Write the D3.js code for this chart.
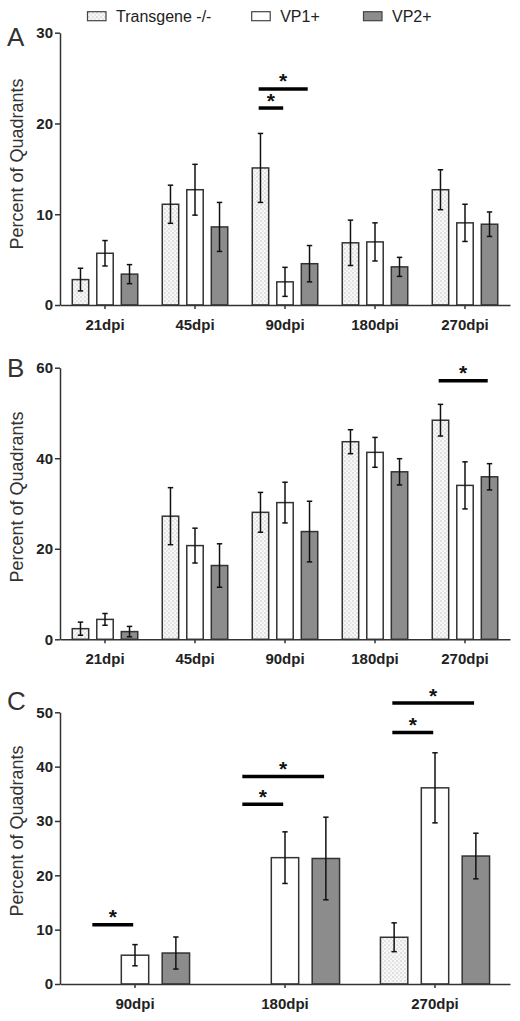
<!DOCTYPE html>
<html>
<head>
<meta charset="utf-8">
<script src="https://cdn.jsdelivr.net/npm/d3@7/dist/d3.min.js"></script>
<style>
  html, body { margin: 0; padding: 0; background: #fff; }
  svg { display: block; font-family: "Liberation Sans", Arial, sans-serif; }
</style>
</head>
<body>
<svg id="chart" width="520" height="1021"></svg>
<script>
// ---------------- DATA ----------------
const seriesNames = ["Transgene -/-", "VP1+", "VP2+"];

// Panel A
const catsA = ["21dpi", "45dpi", "90dpi", "180dpi", "270dpi"];
const tgA   = [2.8, 11.1, 15.1, 6.85, 12.7];
const tgAErr  = [1.25, 2.1, 3.8, 2.5, 2.2];
const vp1A  = [5.7, 12.7, 2.55, 6.95, 9.05];
const vp1AErr = [1.4, 2.8, 1.6, 2.1, 2.05];
const vp2A  = [3.4, 8.6, 4.55, 4.2, 8.9];
const vp2AErr = [1.05, 2.7, 2.0, 1.05, 1.35];
const ticksA = [0, 10, 20, 30];
const sigA = [
  { cat: "90dpi", from: "Transgene -/-", to: "VP2+", y: 23.8 },
  { cat: "90dpi", from: "Transgene -/-", to: "VP1+", y: 21.7 }
];

// Panel B
const catsB = ["21dpi", "45dpi", "90dpi", "180dpi", "270dpi"];
const tgB   = [2.35, 27.2, 28.05, 43.65, 48.4];
const tgBErr  = [1.45, 6.3, 4.4, 2.65, 3.5];
const vp1B  = [4.4, 20.7, 30.2, 41.3, 34.0];
const vp1BErr = [1.3, 3.85, 4.5, 3.3, 5.2];
const vp2B  = [1.7, 16.3, 23.8, 37.0, 35.9];
const vp2BErr = [1.15, 4.8, 6.7, 2.9, 2.9];
const ticksB = [0, 20, 40, 60];
const sigB = [
  { cat: "270dpi", from: "Transgene -/-", to: "VP2+", y: 57.1 }
];

// Panel C
const catsC = ["90dpi", "180dpi", "270dpi"];
const tgC   = [null, null, 8.6];
const tgCErr  = [null, null, 2.65];
const vp1C  = [5.3, 23.25, 36.1];
const vp1CErr = [1.95, 4.75, 6.45];
const vp2C  = [5.7, 23.1, 23.55];
const vp2CErr = [2.95, 7.6, 4.2];
const ticksC = [0, 10, 20, 30, 40, 50];
const sigC = [
  { cat: "90dpi",  from: "Transgene -/-", to: "VP1+", y: 10.9 },
  { cat: "180dpi", from: "Transgene -/-", to: "VP2+", y: 38.2 },
  { cat: "180dpi", from: "Transgene -/-", to: "VP1+", y: 33.1 },
  { cat: "270dpi", from: "Transgene -/-", to: "VP2+", y: 51.7 },
  { cat: "270dpi", from: "Transgene -/-", to: "VP1+", y: 46.3 }
];

// ---------------- LAYOUT ----------------
const panels = [
  { letter: "A", cats: catsA, vals: [tgA, vp1A, vp2A], errs: [tgAErr, vp1AErr, vp2AErr], ticks: ticksA, sig: sigA,
    top: 32.7, base: 305, letterY: 46, titleY: 164 },
  { letter: "B", cats: catsB, vals: [tgB, vp1B, vp2B], errs: [tgBErr, vp1BErr, vp2BErr], ticks: ticksB, sig: sigB,
    top: 367.7, base: 639.3, letterY: 377, titleY: 497 },
  { letter: "C", cats: catsC, vals: [tgC, vp1C, vp2C], errs: [tgCErr, vp1CErr, vp2CErr], ticks: ticksC, sig: sigC,
    top: 712.3, base: 984, letterY: 710, titleY: 831 }
];
const xLeft = 60, xRight = 510;
const fills = { "Transgene -/-": "url(#dots)", "VP1+": "#ffffff", "VP2+": "#8c8c8c" };
const axisColor = "#333";

const svg = d3.select("#chart");
svg.append("rect").attr("width", 520).attr("height", 1021).attr("fill", "#fff");

// dotted pattern
const defs = svg.append("defs");
const pat = defs.append("pattern").attr("id", "dots").attr("patternUnits", "userSpaceOnUse")
  .attr("width", 4).attr("height", 4);
pat.append("rect").attr("width", 4).attr("height", 4).attr("fill", "#f8f8f8");
pat.append("rect").attr("x", 0.5).attr("y", 0.5).attr("width", 1).attr("height", 1).attr("fill", "#9a9a9a");
pat.append("rect").attr("x", 2.5).attr("y", 2.5).attr("width", 1).attr("height", 1).attr("fill", "#b5b5b5");

// ---------------- LEGEND ----------------
const legendX = [87.5, 251.7, 363.5];
const leg = svg.append("g");
seriesNames.forEach((s, i) => {
  leg.append("rect").attr("x", legendX[i]).attr("y", 11.7).attr("width", 18.5).attr("height", 9)
    .attr("fill", fills[s]).attr("stroke", "#444").attr("stroke-width", 1.2);
  leg.append("text").attr("x", legendX[i] + 28.5).attr("y", 21.5).attr("font-size", 16)
    .attr("fill", "#222").text(s);
});

// ---------------- PANELS ----------------
panels.forEach(p => {
  const g = svg.append("g");
  const ymax = p.ticks[p.ticks.length - 1];
  const y = d3.scaleLinear().domain([0, ymax]).range([p.base, p.top]);
  const x0 = d3.scaleBand().domain(p.cats).range([xLeft, xRight]).padding(0);
  const x1 = d3.scaleBand().domain(seriesNames).range([0, x0.bandwidth()])
    .paddingInner(0.33).paddingOuter(0.5);

  const rows = [];
  p.cats.forEach((c, ci) => {
    seriesNames.forEach((s, si) => {
      const v = p.vals[si][ci];
      if (v !== null && v !== undefined) rows.push({ c, s, v, e: p.errs[si][ci] });
    });
  });

  // bars
  g.selectAll("rect.bar").data(rows).join("rect").attr("class", "bar")
    .attr("x", d => x0(d.c) + x1(d.s))
    .attr("y", d => y(d.v))
    .attr("width", x1.bandwidth())
    .attr("height", d => y(0) - y(d.v))
    .attr("fill", d => fills[d.s])
    .attr("stroke", "#333").attr("stroke-width", 1.5);

  // error bars
  const cap = 2.7;
  const eb = g.selectAll("g.err").data(rows).join("g").attr("class", "err")
    .attr("stroke", "#111").attr("stroke-width", 1.5);
  eb.append("line")
    .attr("x1", d => x0(d.c) + x1(d.s) + x1.bandwidth() / 2)
    .attr("x2", d => x0(d.c) + x1(d.s) + x1.bandwidth() / 2)
    .attr("y1", d => y(d.v + d.e)).attr("y2", d => y(d.v - d.e));
  eb.append("line")
    .attr("x1", d => x0(d.c) + x1(d.s) + x1.bandwidth() / 2 - cap)
    .attr("x2", d => x0(d.c) + x1(d.s) + x1.bandwidth() / 2 + cap)
    .attr("y1", d => y(d.v + d.e)).attr("y2", d => y(d.v + d.e));
  eb.append("line")
    .attr("x1", d => x0(d.c) + x1(d.s) + x1.bandwidth() / 2 - cap)
    .attr("x2", d => x0(d.c) + x1(d.s) + x1.bandwidth() / 2 + cap)
    .attr("y1", d => y(d.v - d.e)).attr("y2", d => y(d.v - d.e));

  // axes
  const yAxis = g.append("g").attr("transform", `translate(${xLeft},0)`)
    .call(d3.axisLeft(y).tickValues(p.ticks).tickSize(5).tickSizeOuter(0).tickPadding(2).tickFormat(d3.format("d")));
  const xAxis = g.append("g").attr("transform", `translate(0,${p.base})`)
    .call(d3.axisBottom(x0).tickSize(4).tickSizeOuter(0).tickPadding(10));
  [yAxis, xAxis].forEach(a => {
    a.selectAll("path, line").attr("stroke", axisColor).attr("stroke-width", 1.5);
    a.selectAll("text").attr("font-size", 15).attr("font-weight", "bold").attr("fill", "#222")
      .attr("font-family", "'Liberation Sans', Arial, sans-serif");
  });

  // significance
  const cx = (c, s) => x0(c) + x1(s) + x1.bandwidth() / 2;
  p.sig.forEach(sg => {
    const xa = cx(sg.cat, sg.from) - 1.8, xb = cx(sg.cat, sg.to) - 1.8;
    g.append("line").attr("x1", xa).attr("x2", xb).attr("y1", y(sg.y)).attr("y2", y(sg.y))
      .attr("stroke", "#000").attr("stroke-width", 3.5);
    g.append("text").attr("x", (xa + xb) / 2).attr("y", y(sg.y) - 0.5)
      .attr("text-anchor", "middle").attr("font-size", 21).attr("font-weight", "bold")
      .attr("fill", "#111").text("*");
  });

  // panel letter
  g.append("text").attr("x", 7).attr("y", p.letterY).attr("font-size", 26)
    .attr("fill", "#333").text(p.letter);

  // y title
  g.append("text").attr("transform", `translate(22.5,${p.titleY}) rotate(-90)`)
    .attr("text-anchor", "middle").attr("font-size", 18).attr("fill", "#333")
    .text("Percent of Quadrants");
});
</script>
</body>
</html>
